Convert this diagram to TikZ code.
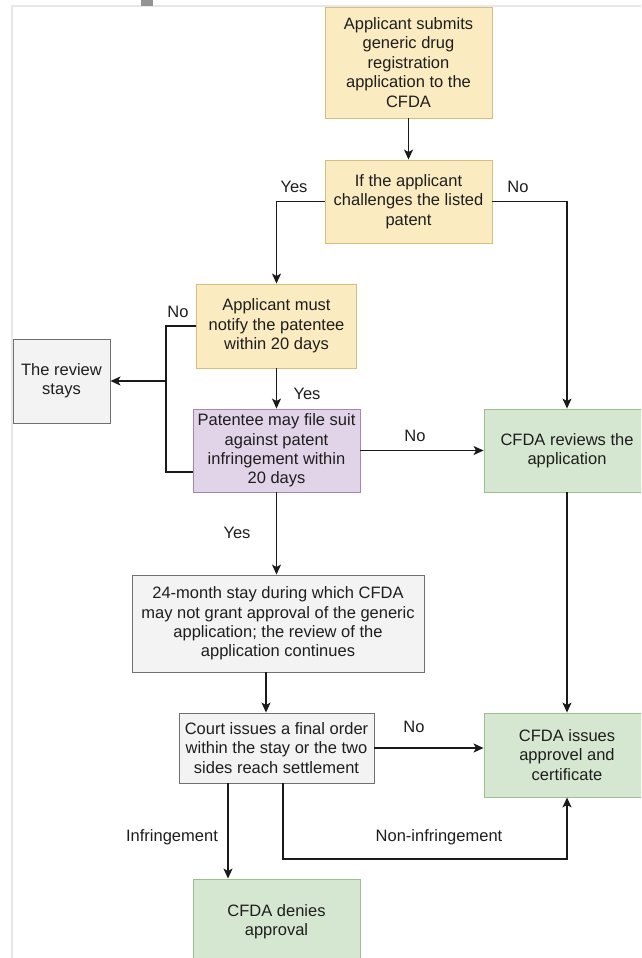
\documentclass[tikz,border=0pt]{standalone}
\usepackage{fontspec}
\setmainfont{Liberation Sans}
\usetikzlibrary{arrows.meta,calc}
\definecolor{yelf}{HTML}{FAEBC0}
\definecolor{yeld}{HTML}{D6BE80}
\definecolor{purf}{HTML}{E2D4E8}
\definecolor{purd}{HTML}{A586B3}
\definecolor{grnf}{HTML}{D5E7D0}
\definecolor{grnd}{HTML}{9DBF90}
\definecolor{gryf}{HTML}{F3F3F3}
\definecolor{gryd}{HTML}{707070}
\definecolor{txt}{HTML}{1E1E1E}
\definecolor{lin}{HTML}{1A1A1A}
\definecolor{frm}{HTML}{E8E8EC}
\begin{document}
\begin{tikzpicture}[x=1pt,y=-1pt,
  box/.style={rectangle, line width=0.9pt, align=center, inner sep=0pt,
    font=\fontsize{16.5}{19.4}\selectfont, text=txt},
  yel/.style={box, fill=yelf, draw=yeld},
  pur/.style={box, fill=purf, draw=purd},
  grn/.style={box, fill=grnf, draw=grnd},
  gry/.style={box, fill=gryf, draw=gryd},
  conn/.style={line width=1.3pt, draw=lin},
  arr/.style={conn, -{Stealth[length=10pt,width=9pt,inset=2.5pt]}},
  lbl/.style={font=\fontsize{16.5}{19.4}\selectfont, text=txt, inner sep=0pt}
]
\useasboundingbox (0,0) rectangle (641,958);
\clip (0,0) rectangle (641,958);
\fill[white] (0,0) rectangle (641,958);
\draw[frm, line width=1.2pt] (12,958) -- (12,6) -- (641,6);
\fill[gray!85] (141,0) rectangle (153,6);

\node[yel, minimum width=167pt, minimum height=111pt] (b1) at (408.5,62.5)
  {Applicant submits\\generic drug\\registration\\application to the\\CFDA};
\node[yel, minimum width=167pt, minimum height=83pt] (b2) at (408.5,201.5)
  {If the applicant\\challenges the listed\\patent};
\node[yel, minimum width=160pt, minimum height=84pt] (b3) at (276.5,326)
  {Applicant must\\notify the patentee\\within 20 days};
\node[gry, minimum width=97pt, minimum height=84pt] (stay) at (61.5,381)
  {The review\\stays};
\node[pur, minimum width=167pt, minimum height=83pt] (b4) at (276.5,450.5)
  {Patentee may file suit\\against patent\\infringement within\\20 days};
\node[grn, minimum width=166pt, minimum height=83pt] (rev) at (567,450.5)
  {CFDA reviews the\\application};
\node[gry, minimum width=292pt, minimum height=97pt] (b5) at (278,623.5)
  {24-month stay during which CFDA\\may not grant approval of the generic\\application; the review of the\\application continues};
\node[gry, minimum width=195pt, minimum height=70pt] (b6) at (276.5,748)
  {Court issues a final order\\within the stay or the two\\sides reach settlement};
\node[grn, minimum width=166pt, minimum height=84pt] (iss) at (567,755)
  {CFDA issues\\approvel and\\certificate};
\node[grn, minimum width=167pt, minimum height=86pt] (deny) at (276.5,922)
  {CFDA denies\\approval};

\coordinate (jn) at (166,381);
\coordinate (jb) at (166,472);
\coordinate (xa) at (266,0);
\coordinate (xi) at (228,0);
\coordinate (ni) at (283,859);

\draw[arr] (b1) -- (b2);
\draw[arr] (b2.west) -| (b3.north);
\draw[arr] (b2.east) -| (rev.north);
\draw[conn] (b3.west) -| (jb) -- (jb -| b4.west);
\draw[arr] (jn) -- (jn -| stay.east);
\draw[arr] (b3) -- (b4);
\draw[arr] (b4.east) -- (b4.east -| rev.west);
\draw[arr] (rev) -- (iss);
\draw[arr] (b4.south) -- (b4.south |- b5.north);
\draw[arr] (b5.south -| xa) -- (b6.north -| xa);
\draw[arr] (b6.east) -- (b6.east -| iss.west);
\draw[arr] (b6.south -| xi) -- (deny.north -| xi);
\draw[arr] (b6.south -| ni) -- (ni) -| (iss.south);

\node[lbl] (l1) at (294,187) {Yes};
\node[lbl] (l2) at (518,187) {No};
\node[lbl] (l3) at (178,312) {No};
\node[lbl] (l4) at (307,394) {Yes};
\node[lbl] (l5) at (415,436) {No};
\node[lbl] (l6) at (237,533) {Yes};
\node[lbl] (l7) at (414,727) {No};
\node[lbl] (l8) at (172,837) {Infringement};
\node[lbl] (l9) at (439,837) {Non-infringement};
\end{tikzpicture}
\end{document}
